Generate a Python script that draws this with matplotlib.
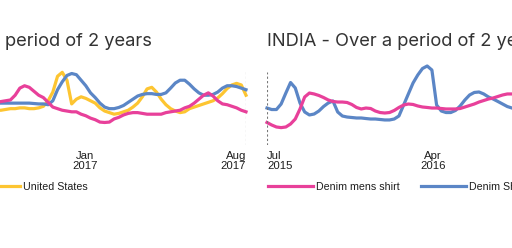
import matplotlib
matplotlib.use("Agg")
import matplotlib.pyplot as plt
from matplotlib.lines import Line2D

# ---------------- data (Google-Trends style interest, 0-100, weekly index) -------------
# Left panel (visible part): weeks 51..104
left_weeks = list(range(51, 105))
left_pink = [54, 55, 56, 57, 63, 72, 75, 73, 68, 63, 60, 54, 48, 46, 44, 43, 42, 42, 39, 37,
             34, 32, 29, 28.5, 29, 33, 35, 38, 40, 41, 41, 40, 39, 39, 39, 39, 41, 42, 43, 44,
             47, 49, 53, 58, 63, 66, 62, 56, 52, 51, 49, 47, 44, 42]
left_blue = [53, 53, 53, 53, 53, 53, 53, 53, 52.5, 52, 52, 51, 56, 70, 80, 88, 90.5, 89, 82, 75,
             66, 60, 53, 48, 46, 46, 47.5, 50, 54, 58, 62, 64, 65, 65, 64, 64, 66, 72, 78.5, 82,
             82, 77, 71, 66, 63, 63, 64, 67, 72, 75, 75, 74, 72, 70]
left_yellow = [44, 44, 45, 46, 46, 47, 47, 46, 46, 47, 49, 56, 67, 87, 92, 82, 52, 58, 61, 59,
               56, 53, 47, 43, 41, 39, 40, 42, 44, 48, 53, 61, 71, 73, 67, 58, 51, 46, 43, 41,
               42, 46, 48, 50, 52, 54, 56, 59.5, 65, 71.5, 76, 78, 76, 63]

# Right panel (INDIA, visible part): weeks 0..53
right_weeks = list(range(0, 54))
right_pink = [28.5, 25.3, 22.8, 22, 22.8, 26.6, 32.9, 45.6, 60.8, 65.8, 64.6, 62.7, 60.1, 57,
              55.1, 54.4, 54.4, 53.8, 51.3, 47.5, 45.6, 46.8, 46.2, 43, 41.1, 40.5, 41.1, 43.7,
              47.5, 50.6, 51.9, 51.3, 49.4, 48.1, 47.5, 46.8, 46.8, 46.2, 45.6, 45.6, 45.6,
              46.2, 48.1, 50, 51.9, 54.4, 56.3, 58.2, 59.5, 61.4, 63.3, 64.6, 64.6, 64.6]
right_blue = [46.8, 44.9, 44.9, 51.9, 65.8, 79.1, 72.2, 53.2, 41.8, 38, 39.2, 43, 48.7, 53.2,
              55.7, 41.8, 36.7, 35.4, 34.8, 34.2, 34.2, 33.5, 32.9, 32.9, 32.3, 31.7, 31.7,
              32.9, 36.7, 50.6, 64.6, 78.5, 88.6, 96.8, 100, 94.9, 50.6, 43, 41.1, 41.1, 43.7,
              49.4, 57, 63.3, 66.5, 67.1, 64.6, 60.8, 58.2, 55.1, 51.9, 48.7, 46.8, 44.3]

left_ticks = [69.8, 104]
left_ticklabels = ["Jan\n2017", "Aug\n2017"]
right_ticks = [0, 35.2]
right_ticklabels = ["Jul\n2015", "Apr\n2016"]

left_title = "UNITED STATES - Over a period of 2 years"
right_title = "INDIA - Over a period of 2 years"
legend_labels = ["Denim mens shirt", "Denim Shirt", "United States"]

PINK = "#e8409a"
BLUE = "#5b86c6"
YELLOW = "#fdc531"
TXT = "#1e1e1e"
TICKFONT = "Liberation Sans"
TITLEFONT = "Inter"

W, H = 512, 248
fig = plt.figure(figsize=(W / 100, H / 100), dpi=100)
fig.patch.set_facecolor("white")

ax_bottom = 1 - 145 / H
ax_h = 79 / H
axL = fig.add_axes([-244 / W, ax_bottom, 490 / W, ax_h])
axR = fig.add_axes([267 / W, ax_bottom, 490 / W, ax_h])

lw = 2.3
for ax in (axL, axR):
    ax.set_xlim(0, 104)
    ax.set_ylim(0, 100)
    for s in ax.spines.values():
        s.set_visible(False)
    ax.set_yticks([])
    ax.patch.set_alpha(0)
    ax.tick_params(axis="x", length=0, pad=4.5)

axL.plot(left_weeks, left_yellow, color=YELLOW, lw=lw, clip_on=False, solid_joinstyle="round")
axL.plot(left_weeks, left_blue, color=BLUE, lw=lw, clip_on=False, solid_joinstyle="round")
axL.plot(left_weeks, left_pink, color=PINK, lw=lw, clip_on=False, solid_joinstyle="round")
axL.axvline(104, ymin=0, ymax=0.94, color="#777777", lw=0.8, ls=(0, (2, 2)))

axR.plot(right_weeks, right_blue, color=BLUE, lw=lw, clip_on=False, solid_joinstyle="round")
axR.plot(right_weeks, right_pink, color=PINK, lw=lw, clip_on=False, solid_joinstyle="round")
axR.axvline(0, ymin=0, ymax=0.93, color="#777777", lw=0.8, ls=(0, (2, 2)))

def set_ticks(ax, ticks, labels, aligns):
    ax.set_xticks(ticks)
    ax.set_xticklabels(labels, fontsize=8.2, family=TICKFONT, color=TXT, linespacing=1.0)
    for t, a in zip(ax.get_xticklabels(), aligns):
        t.set_ha(a)
        t.set_multialignment(a)

set_ticks(axL, left_ticks, left_ticklabels, ["center", "right"])
set_ticks(axR, right_ticks, right_ticklabels, ["left", "center"])

# titles
fig.text(152 / W, 1 - 46 / H, left_title, ha="right", va="baseline",
         fontsize=13.2, family=TITLEFONT, color="#333333")
fig.text(267 / W, 1 - 46 / H, right_title, ha="left", va="baseline",
         fontsize=13.2, family=TITLEFONT, color="#333333")

# legends
handles = [Line2D([], [], color=c, lw=lw) for c in (PINK, BLUE, YELLOW)]
leg_kw = dict(frameon=False, handlelength=4.2, handletextpad=0.3, columnspacing=2.0,
              borderpad=0, borderaxespad=0,
              prop={"family": TICKFONT, "size": 7.7})
legL = fig.legend(handles, legend_labels, loc="center right", ncol=3,
                  bbox_to_anchor=(88 / W, 1 - 186.5 / H), **leg_kw)
legR = fig.legend(handles[:2], legend_labels[:2], loc="center left", ncol=2,
                  bbox_to_anchor=(268 / W, 1 - 186.5 / H), **leg_kw)
for leg in (legL, legR):
    for t in leg.get_texts():
        t.set_color(TXT)

fig.savefig("out.png", dpi=100)
